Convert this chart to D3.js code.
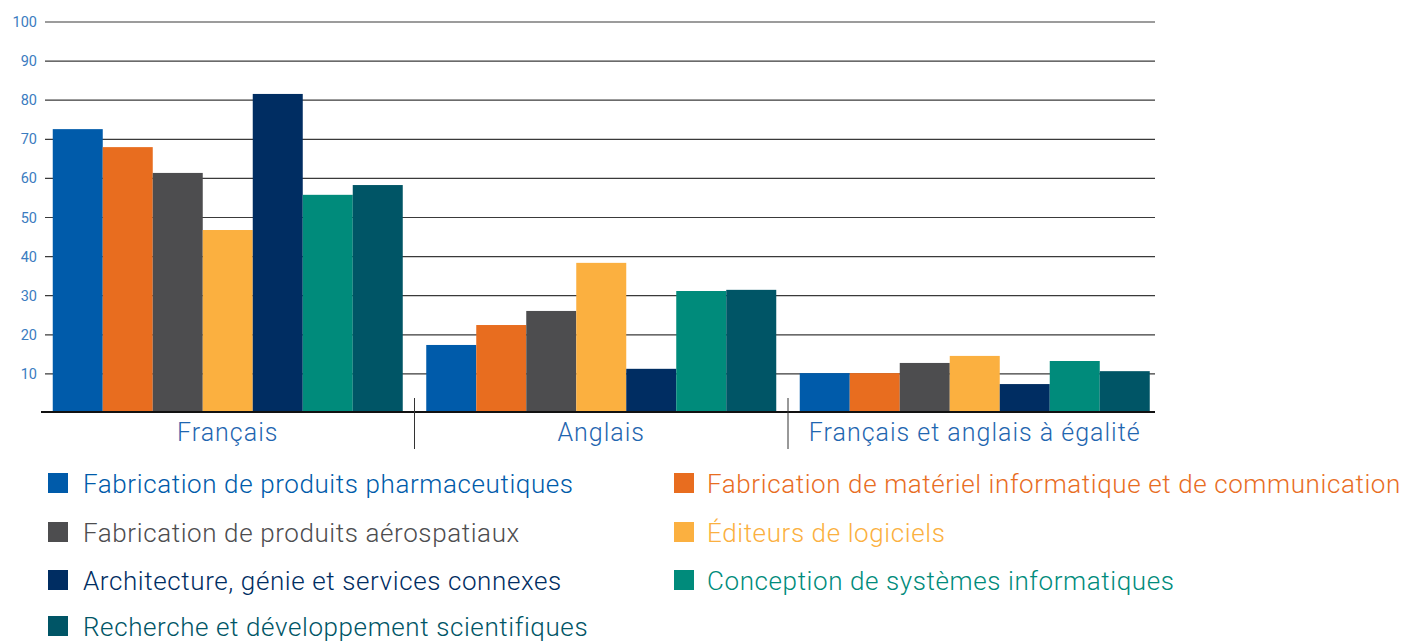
<!DOCTYPE html>
<html>
<head>
<meta charset="utf-8">
<script src="https://cdnjs.cloudflare.com/ajax/libs/d3/7.8.5/d3.min.js"></script>
<style>
  body { margin: 0; background: #fff; }
  text { font-family: Roboto, "Liberation Sans", sans-serif; }
</style>
</head>
<body>
<div id="chart"></div>
<script>
var groups = ["Français", "Anglais", "Français et anglais à égalité"];
var seriesNames = [
  "Fabrication de produits pharmaceutiques",
  "Fabrication de matériel informatique et de communication",
  "Fabrication de produits aérospatiaux",
  "Éditeurs de logiciels",
  "Architecture, génie et services connexes",
  "Conception de systèmes informatiques",
  "Recherche et développement scientifiques"
];
var colors = ["#005baa", "#e86d1f", "#4d4d4f", "#fbb040", "#002d62", "#008b7b", "#005566"];
// values per series, in group order (Français, Anglais, égalité)
var pharma    = [72.6, 17.4, 10.2];
var materiel  = [68.0, 22.5, 10.2];
var aero      = [61.4, 26.1, 12.8];
var logiciels = [46.8, 38.4, 14.6];
var archi     = [81.6, 11.3, 7.4];
var conception= [55.8, 31.2, 13.3];
var recherche = [58.3, 31.5, 10.7];
var yTicks = [10, 20, 30, 40, 50, 60, 70, 80, 90, 100];

var seriesValues = [pharma, materiel, aero, logiciels, archi, conception, recherche];

var W = 1410, H = 642;
var svg = d3.select("#chart").append("svg")
  .attr("width", W)
  .attr("height", H);

var x0 = d3.scaleBand().domain(groups).range([41, 1161.5]).paddingInner(0).paddingOuter(0);
var x1 = d3.scaleBand().domain(d3.range(seriesNames.length)).range([0, 350]).padding(0);
var inset = (x0.bandwidth() - 350) / 2;
var y = d3.scaleLinear().domain([0, 100]).range([413, 22]);

// gridlines
svg.append("g").selectAll("line")
  .data(yTicks)
  .join("line")
  .attr("x1", 45).attr("x2", 1155)
  .attr("y1", d => y(d)).attr("y2", d => y(d))
  .attr("stroke", "#3a3a3a")
  .attr("stroke-width", 1.2);

// y tick labels
svg.append("g").selectAll("text")
  .data(yTicks)
  .join("text")
  .attr("x", 37)
  .attr("y", d => y(d))
  .attr("dy", "0.35em")
  .attr("text-anchor", "end")
  .attr("fill", "#3b7cc0")
  .style("font-size", "14.5px")
  .text(d => d);

// bars
var gGroups = svg.append("g").selectAll("g")
  .data(groups)
  .join("g")
  .attr("transform", (d, gi) => "translate(" + (x0(d) + inset) + ",0)");

gGroups.selectAll("rect")
  .data((d, gi) => seriesValues.map((s, si) => ({si: si, v: s[gi]})))
  .join("rect")
  .attr("x", d => x1(d.si))
  .attr("width", x1.bandwidth())
  .attr("y", d => y(d.v))
  .attr("height", d => y(0) - y(d.v))
  .attr("fill", d => colors[d.si]);

// baseline
svg.append("line")
  .attr("x1", 41).attr("x2", 1155)
  .attr("y1", 412).attr("y2", 412)
  .attr("stroke", "#111")
  .attr("stroke-width", 2);

// group separators
svg.append("g").selectAll("line")
  .data(groups.slice(1))
  .join("line")
  .attr("x1", d => x0(d)).attr("x2", d => x0(d))
  .attr("y1", 398).attr("y2", 449)
  .attr("stroke", "#333")
  .attr("stroke-width", 1);

// group labels
svg.append("g").selectAll("text")
  .data(groups)
  .join("text")
  .attr("x", d => x0(d) + x0.bandwidth() / 2)
  .attr("y", 441)
  .attr("text-anchor", "middle")
  .attr("fill", "#1f66b0")
  .style("font-size", "25px")
  .style("letter-spacing", "1px")
  .style("font-weight", 300)
  .text(d => d);

// legend
var legX = [48, 674];
var legY = [483, 532, 580, 626];
var leg = svg.append("g").selectAll("g")
  .data(seriesNames)
  .join("g")
  .attr("transform", (d, i) => "translate(" + legX[i % 2] + "," + legY[Math.floor(i / 2)] + ")");

leg.append("rect")
  .attr("x", 0).attr("y", -10)
  .attr("width", 20).attr("height", 20)
  .attr("fill", (d, i) => colors[i]);

leg.append("text")
  .attr("x", (d, i) => i % 2 ? 33 : 35)
  .attr("y", 1)
  .attr("dy", "0.33em")
  .attr("fill", (d, i) => colors[i])
  .style("font-size", "26px")
  .style("letter-spacing", "0.6px")
  .style("font-weight", 300)
  .text(d => d);
</script>
</body>
</html>
